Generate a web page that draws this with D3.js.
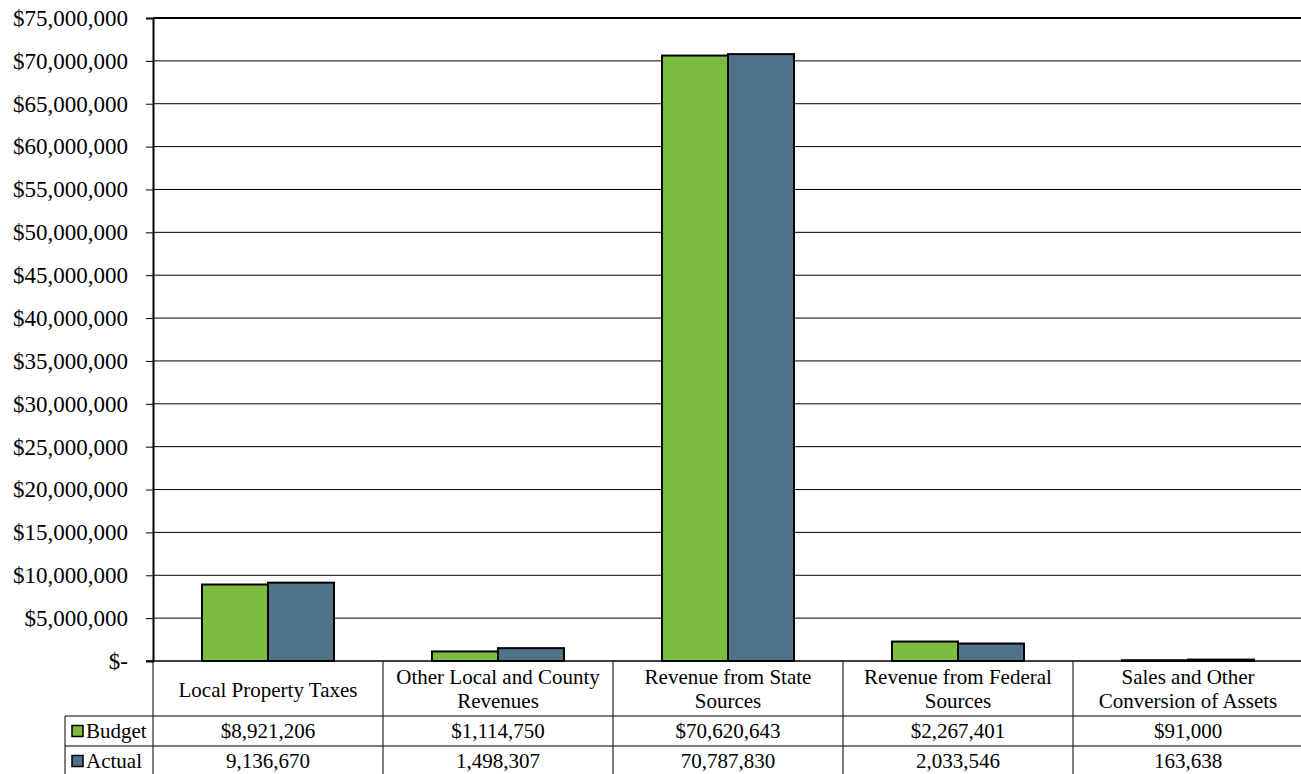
<!DOCTYPE html>
<html>
<head>
<meta charset="utf-8">
<script src="https://cdn.jsdelivr.net/npm/d3@7"></script>
<style>
  html, body { margin: 0; padding: 0; background: #fff; }
  svg { display: block; }
  text { font-family: "Liberation Serif", "Times New Roman", serif; fill: #000; }
</style>
</head>
<body>
<svg id="chart" width="1301" height="774"></svg>
<script>
// Revenue categories (two-line labels for the table header row)
const categories = [
  ["Local Property Taxes"],
  ["Other Local and County", "Revenues"],
  ["Revenue from State", "Sources"],
  ["Revenue from Federal", "Sources"],
  ["Sales and Other", "Conversion of Assets"]
];
const seriesNames = ["Budget", "Actual"];
const budget = [8921206, 1114750, 70620643, 2267401, 91000];
const actual = [9136670, 1498307, 70787830, 2033546, 163638];
const budgetLabels = ["$8,921,206", "$1,114,750", "$70,620,643", "$2,267,401", "$91,000"];
const actualLabels = ["9,136,670", "1,498,307", "70,787,830", "2,033,546", "163,638"];
const yTicks = [0, 5e6, 10e6, 15e6, 20e6, 25e6, 30e6, 35e6, 40e6, 45e6, 50e6, 55e6, 60e6, 65e6, 70e6, 75e6];
const colors = ["#7bbd42", "#517389"];

const svg = d3.select("#chart");
const plot = { left: 153, right: 1303, top: 18, bottom: 661 };

const x = d3.scaleBand().domain(d3.range(categories.length)).range([plot.left, plot.right]);
const y = d3.scaleLinear().domain([0, 75e6]).range([plot.bottom, plot.top]);
const groupW = 132;
const xs = d3.scaleBand().domain(d3.range(seriesNames.length)).range([0, groupW]);

const fmt = v => v === 0 ? "$-" : "$" + d3.format(",")(v);

// gridlines
svg.append("g").selectAll("line").data(yTicks.filter(v => v > 0 && v < 75e6)).join("line")
  .attr("x1", plot.left).attr("x2", plot.right)
  .attr("y1", d => y(d)).attr("y2", d => y(d))
  .attr("stroke", "#000").attr("stroke-width", 1);

// top border
svg.append("line").attr("x1", plot.left).attr("x2", plot.right).attr("y1", y(75e6)).attr("y2", y(75e6))
  .attr("stroke", "#000").attr("stroke-width", 2);

// y axis
const yAxis = d3.axisLeft(y).tickValues(yTicks).tickFormat(fmt).tickSize(7).tickPadding(18);
const ga = svg.append("g").attr("transform", `translate(${plot.left},0)`).call(yAxis);
ga.select(".domain").attr("stroke", "#000").attr("stroke-width", 2);
ga.selectAll(".tick line").attr("stroke", "#000").attr("stroke-width", 1);
ga.selectAll(".tick text").style("font-size", "23px").style("font-family", "'Liberation Serif', serif");

// bars
const seriesData = [budget, actual];
const bars = svg.append("g");
seriesData.forEach((vals, s) => {
  bars.selectAll(null).data(vals).join("rect")
    .attr("x", (d, i) => x(i) + (x.bandwidth() - groupW) / 2 + xs(s))
    .attr("width", xs.bandwidth())
    .attr("y", d => y(d))
    .attr("height", d => y(0) - y(d))
    .attr("fill", colors[s])
    .attr("stroke", "#000").attr("stroke-width", 2);
});

// baseline
svg.append("line").attr("x1", plot.left - 7).attr("x2", plot.right).attr("y1", plot.bottom).attr("y2", plot.bottom)
  .attr("stroke", "#000").attr("stroke-width", 1.5);

// data table
const tbl = svg.append("g");
const rowTop = 716, rowMid = 746, rowBot = 776, hdrLeft = 65;
// vertical separators
tbl.selectAll("line.v").data(d3.range(categories.length + 1)).join("line")
  .attr("x1", i => i < categories.length ? x(i) : plot.right).attr("x2", i => i < categories.length ? x(i) : plot.right)
  .attr("y1", plot.bottom).attr("y2", rowBot)
  .attr("stroke", "#000").attr("stroke-width", 1);
// horizontal rows
[rowTop, rowMid].forEach(yy => {
  tbl.append("line").attr("x1", hdrLeft).attr("x2", plot.right).attr("y1", yy).attr("y2", yy)
    .attr("stroke", "#000").attr("stroke-width", 1);
});
tbl.append("line").attr("x1", hdrLeft).attr("x2", hdrLeft).attr("y1", rowTop).attr("y2", rowBot)
  .attr("stroke", "#000").attr("stroke-width", 1);

// category header labels
categories.forEach((lines, i) => {
  const cx = x(i) + x.bandwidth() / 2;
  const n = lines.length;
  const t = tbl.append("text").attr("text-anchor", "middle").style("font-size", "21px");
  lines.forEach((ln, k) => {
    t.append("tspan").attr("x", cx)
      .attr("y", n === 1 ? 697 : 684 + k * 24)
      .text(ln);
  });
});

// value rows
[budgetLabels, actualLabels].forEach((labels, s) => {
  const cy = s === 0 ? 738 : 768;
  tbl.selectAll(null).data(labels).join("text")
    .attr("x", (d, i) => x(i) + x.bandwidth() / 2)
    .attr("y", cy)
    .attr("text-anchor", "middle").style("font-size", "21px")
    .text(d => d);
  // legend key + series name
  tbl.append("rect").attr("x", 72).attr("y", cy - 12.5).attr("width", 11).attr("height", 11)
    .attr("fill", colors[s]).attr("stroke", "#000").attr("stroke-width", 1.5);
  tbl.append("text").attr("x", 86).attr("y", cy).style("font-size", "21px").text(seriesNames[s]);
});
</script>
</body>
</html>
